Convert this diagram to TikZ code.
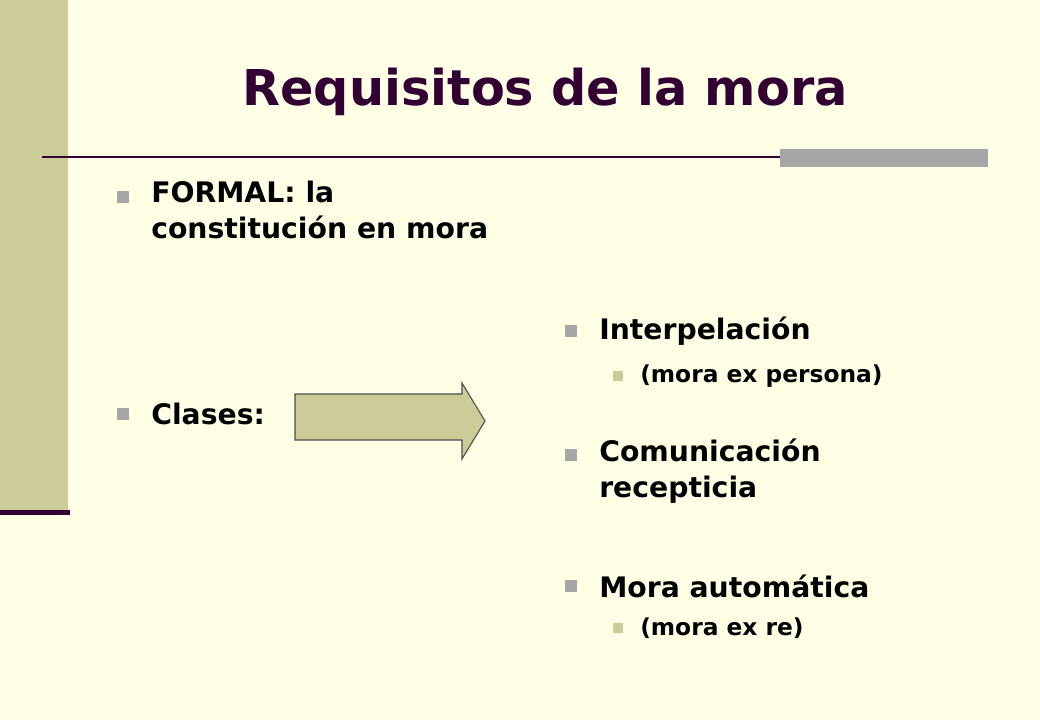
\documentclass[tikz,border=0pt]{standalone}
\usepackage{fontspec}
\setmainfont{DejaVu Sans}
\definecolor{bg}{HTML}{FFFFE5}
\definecolor{khaki}{HTML}{CCCC99}
\definecolor{purp}{HTML}{330033}
\definecolor{bul}{HTML}{A6A6A6}
\begin{document}
\begin{tikzpicture}[x=0.75pt,y=-0.75pt,
  txt/.style={anchor=west,font=\bfseries\fontsize{21.2}{26.5}\selectfont,align=left,inner sep=0pt,text=black},
  subtxt/.style={anchor=west,font=\bfseries\fontsize{17.5}{22}\selectfont,inner sep=0pt},
  bullet/.style={fill=bul,minimum size=9pt,inner sep=0pt},
  subbullet/.style={fill=khaki,minimum size=7.5pt,inner sep=0pt}]
\useasboundingbox (0,0) rectangle (1040,720);
\fill[bg] (0,0) rectangle (1040,720);
\fill[khaki] (0,0) rectangle (68,510);
\fill[purp] (0,510) rectangle (70,515);
\draw[purp,line width=1.5pt] (42,157) -- (988,157);
\fill[bul] (780,149) rectangle (988,167);
\node[font=\bfseries\fontsize{37}{44}\selectfont,text=purp] (title) at (545,92) {Requisitos de la mora};
\node[bullet] (b1) at (123,197) {};
\node[txt,anchor=north west] (t1) at (151,181) {FORMAL: la\\constitución en mora};
\node[bullet] (b2) at (123,414) {};
\node[txt] (t2) at (151,414) {Clases:};
\draw[fill=khaki,draw=black!70,line width=0.8pt] (295,394) -- (462,394) -- (462,383) -- (485,421) -- (462,459) -- (462,440) -- (295,440) -- cycle;
\node[bullet] (b3) at (571,331) {};
\node[txt] (t3) at (599,331) {Interpelación};
\node[subbullet] (s1) at (618,376) {};
\node[subtxt] (u1) at (640,376) {(mora ex persona)};
\node[bullet] (b4) at (571,455) {};
\node[txt,anchor=north west] (t4) at (599,439) {Comunicación\\recepticia};
\node[bullet] (b5) at (571,586) {};
\node[txt] (t5) at (599,586) {Mora automática};
\node[subbullet] (s2) at (618,628) {};
\node[subtxt] (u2) at (640,628) {(mora ex re)};
\end{tikzpicture}
\end{document}
